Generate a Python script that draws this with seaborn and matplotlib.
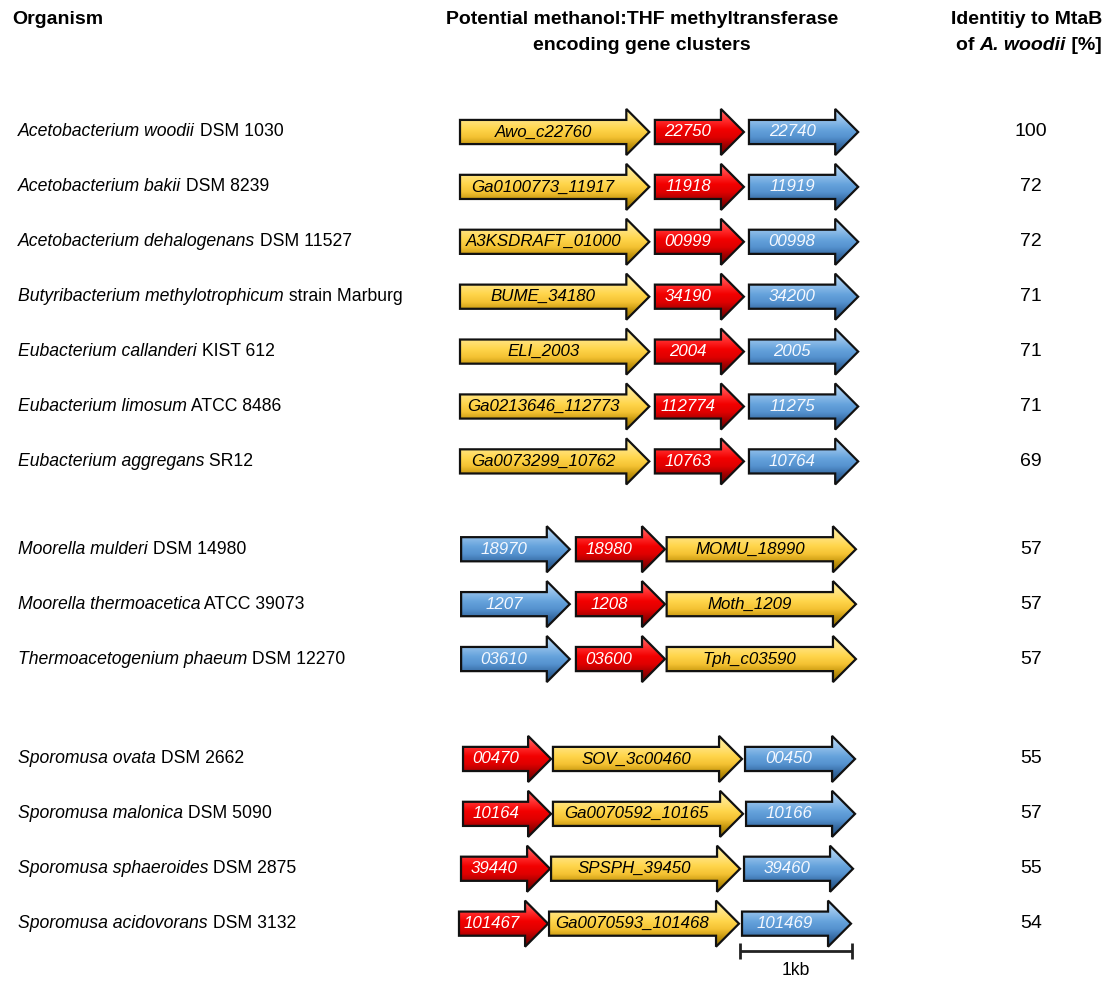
import matplotlib.pyplot as plt
import numpy as np
import seaborn as sns
from matplotlib.patches import Polygon
from matplotlib.colors import LinearSegmentedColormap

sns.set_theme(style="white")
plt.rcParams['font.family'] = ['Liberation Sans', 'DejaVu Sans']
plt.rcParams['text.color'] = 'black'

# organisms (italic part + plain part)
species = ["Acetobacterium woodii", "Acetobacterium bakii", "Acetobacterium dehalogenans",
           "Butyribacterium methylotrophicum", "Eubacterium callanderi", "Eubacterium limosum",
           "Eubacterium aggregans", "Moorella mulderi", "Moorella thermoacetica",
           "Thermoacetogenium phaeum", "Sporomusa ovata", "Sporomusa malonica",
           "Sporomusa sphaeroides", "Sporomusa acidovorans"]
strains = ["DSM 1030", "DSM 8239", "DSM 11527", "strain Marburg", "KIST 612", "ATCC 8486",
           "SR12", "DSM 14980", "ATCC 39073", "DSM 12270", "DSM 2662", "DSM 5090",
           "DSM 2875", "DSM 3132"]
groups = [0, 0, 0, 0, 0, 0, 0, 1, 1, 1, 2, 2, 2, 2]
identity = [100, 72, 72, 71, 71, 71, 69, 57, 57, 57, 55, 57, 55, 54]

# genes per cluster: Y = yellow, R = red (mtaB), B = blue; start/end in bp
gene_kind = [["Y", "R", "B"]] * 7 + [["B", "R", "Y"]] * 3 + [["R", "Y", "B"]] * 4
gene_names = [
    ["Awo_c22760", "22750", "22740"],
    ["Ga0100773_11917", "11918", "11919"],
    ["A3KSDRAFT_01000", "00999", "00998"],
    ["BUME_34180", "34190", "34200"],
    ["ELI_2003", "2004", "2005"],
    ["Ga0213646_112773", "112774", "11275"],
    ["Ga0073299_10762", "10763", "10764"],
    ["18970", "18980", "MOMU_18990"],
    ["1207", "1208", "Moth_1209"],
    ["03610", "03600", "Tph_c03590"],
    ["00470", "SOV_3c00460", "00450"],
    ["10164", "Ga0070592_10165", "10166"],
    ["39440", "SPSPH_39450", "39460"],
    ["101467", "Ga0070593_101468", "101469"],
]
gene_start = [[0, 1740, 2580]] * 7 + [[10, 1035, 1845]] * 3 + [
    [27, 830, 2545], [27, 830, 2554], [9, 813, 2536], [-9, 795, 2518]]
gene_end = [[1690, 2535, 3555]] * 7 + [[980, 1830, 3535]] * 3 + [
    [813, 2518, 3527], [813, 2527, 3527], [804, 2500, 3509], [786, 2491, 3491]]

scale_kb = 1000
scale_start = 2500

colors = {
    "Y": ["#fff2a8", "#ffe27a", "#ffd54a", "#f4c233", "#c99a10", "#8a6a00"],
    "R": ["#ff7070", "#ff2a2a", "#f20000", "#e00000", "#a80000", "#600000"],
    "B": ["#c2def7", "#8ebde9", "#66a3dc", "#5592cf", "#3a6fa8", "#1f4a78"],
}
text_color = {"Y": "black", "R": "white", "B": "#f4f8ff"}

fig = plt.figure(figsize=(11.08, 10.05), dpi=100)
ax = fig.add_axes([0, 0, 1, 1])

row_y = [i + [0, 0.6, 1.42][g] for i, g in enumerate(groups)]
hb, hh, hl = 0.22, 0.42, 205   # body half-height, head half-height, head length (bp)

for r, y in enumerate(row_y):
    for kind, name, x0, x1 in zip(gene_kind[r], gene_names[r], gene_start[r], gene_end[r]):
        pts = [(x0, y - hb), (x1 - hl, y - hb), (x1 - hl, y - hh), (x1, y),
               (x1 - hl, y + hh), (x1 - hl, y + hb), (x0, y + hb)]
        clip = Polygon(pts, closed=True, facecolor=colors[kind][2], edgecolor="none", zorder=2)
        ax.add_patch(clip)
        cmap = LinearSegmentedColormap.from_list(
            kind, list(zip([0, 0.27, 0.45, 0.62, 0.78, 1.0], colors[kind])))
        grad = np.linspace(0, 1, 64).reshape(-1, 1)
        im = ax.imshow(grad, cmap=cmap, extent=(x0, x1, y + hh, y - hh), origin="upper",
                       aspect="auto", interpolation="bicubic", zorder=2.5)
        im.set_clip_path(clip)
        ax.add_patch(Polygon(pts, closed=True, facecolor="none", edgecolor="#111111",
                             lw=1.6, joinstyle="miter", zorder=3))
        ax.text((x0 + x1 - hl) / 2, y, name, ha="center", va="center", fontsize=12.2,
                style="italic", color=text_color[kind], zorder=4)

trans = ax.get_yaxis_transform()
for y, sp, st, ident in zip(row_y, species, strains, identity):
    t = ax.text(18 / 1108, y, sp, transform=trans, ha="left", va="center",
                fontsize=12.7, style="italic")
    ax.annotate(" " + st, xy=(1, 0), xycoords=t, ha="left", va="bottom", fontsize=12.7)
    ax.text(1031 / 1108, y, str(ident), transform=trans, ha="center", va="center",
            fontsize=14)

# scale bar
yb = row_y[-1] + 0.5
ax.plot([scale_start, scale_start + scale_kb], [yb, yb], color="#222222", lw=2,
        marker="|", markersize=11, markeredgewidth=2, solid_capstyle="butt")
ax.text(scale_start + scale_kb / 2, yb + 0.2, "1kb", ha="center", va="top", fontsize=12.7)

# headers
hs = 14
fig.text(12 / 1108, 1 - 20 / 1005, "Organism", ha="left", va="center",
         fontsize=hs, fontweight="bold")
fig.text(642 / 1108, 1 - 20 / 1005, "Potential methanol:THF methyltransferase",
         ha="center", va="center", fontsize=hs, fontweight="bold")
fig.text(642 / 1108, 1 - 46 / 1005, "encoding gene clusters",
         ha="center", va="center", fontsize=hs, fontweight="bold")
fig.text(1102 / 1108, 1 - 20 / 1005, "Identitiy to MtaB", ha="right", va="center",
         fontsize=hs, fontweight="bold")
t1 = fig.text(1102 / 1108, 1 - 46 / 1005, " [%]", ha="right", va="center",
              fontsize=hs, fontweight="bold")
t2 = ax.annotate("A. woodii", xy=(0, 0), xycoords=t1, ha="right", va="bottom",
                 fontsize=hs, fontweight="bold", style="italic")
ax.annotate("of ", xy=(0, 0), xycoords=t2, ha="right", va="bottom",
            fontsize=hs, fontweight="bold")

ax.set_xlim(-460 / 112 * 1000, (1108 - 460) / 112 * 1000)
ax.set_ylim((1005 - 132) / 54.9, -132 / 54.9)
ax.axis("off")

fig.savefig("out.png", dpi=100)
